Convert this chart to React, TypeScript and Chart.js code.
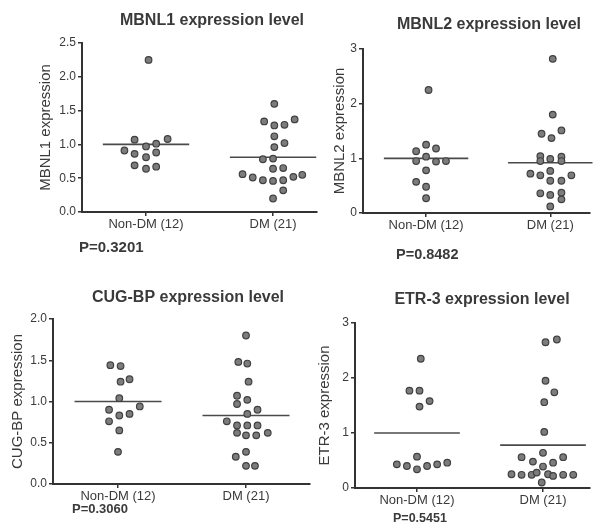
import React, { useEffect, useRef } from 'react';
import { Chart, registerables } from 'chart.js';

Chart.register(...registerables);

// ---------- data ----------
const categories = ['Non-DM (12)', 'DM (21)'];

const panelTitles = ['MBNL1 expression level', 'MBNL2 expression level', 'CUG-BP expression level', 'ETR-3 expression level'];
const yAxisTitles = ['MBNL1 expression', 'MBNL2 expression', 'CUG-BP expression', 'ETR-3 expression'];
const pValueLabels = ['P=0.3201', 'P=0.8482', 'P=0.3060', 'P=0.5451'];

const yMaxValues = [2.5, 3, 2.0, 3];
const yStepValues = [0.5, 1, 0.5, 1];

// MBNL1
const mbnl1NonDm = [2.25, 1.07, 1.08, 0.91, 0.97, 1.01, 0.86, 0.81, 0.88, 0.69, 0.64, 0.67];
const mbnl1NonDmJitter = [0.02, -0.09, 0.17, -0.17, 0, 0.08, -0.09, 0, 0.08, -0.09, 0, 0.08];
const mbnl1Dm = [1.6, 1.34, 1.28, 1.29, 1.37, 1.12, 0.96, 1.02, 0.78, 0.79, 0.64, 0.65, 0.56, 0.51, 0.47, 0.46, 0.47, 0.52, 0.55, 0.32, 0.2];
const mbnl1DmJitter = [0.01, -0.07, 0.01, 0.09, 0.17, 0.01, 0.01, 0.09, -0.08, 0, 0, 0.08, -0.24, -0.16, -0.08, 0, 0.08, 0.16, 0.23, 0.08, 0];
const mbnl1Means = [1.0, 0.81];

// MBNL2
const mbnl2NonDm = [2.25, 1.25, 1.13, 1.18, 1.03, 0.95, 0.94, 0.95, 0.78, 0.57, 0.48, 0.27];
const mbnl2NonDmJitter = [0.02, 0, -0.08, 0.08, 0, -0.08, 0.08, 0.16, 0, -0.08, 0, 0];
const mbnl2Dm = [2.82, 1.8, 1.45, 1.37, 1.51, 1.04, 0.95, 0.99, 1.03, 0.95, 0.72, 0.69, 0.77, 0.59, 0.59, 0.69, 0.36, 0.33, 0.37, 0.25, 0.12];
const mbnl2DmJitter = [0.02, 0.02, -0.07, 0.01, 0.09, -0.08, -0.08, 0, 0.09, 0.09, -0.16, -0.08, 0, 0, 0.09, 0.17, -0.08, 0, 0.09, 0.09, 0];
const mbnl2Means = [1.0, 0.92];

// CUG-BP
const cugbpNonDm = [1.44, 1.43, 1.24, 1.27, 1.04, 0.9, 0.94, 0.83, 0.85, 0.76, 0.65, 0.39];
const cugbpNonDmJitter = [-0.06, 0.02, 0.02, 0.09, 0.01, -0.07, 0.17, 0.01, 0.09, -0.07, 0.01, 0];
const cugbpDm = [1.8, 1.48, 1.46, 1.24, 1.07, 0.97, 1.02, 0.9, 0.85, 0.76, 0.71, 0.62, 0.71, 0.71, 0.59, 0.59, 0.62, 0.33, 0.39, 0.22, 0.22];
const cugbpDmJitter = [0, -0.06, 0.01, 0.02, -0.07, -0.07, 0.01, 0.09, 0.01, -0.15, -0.07, -0.07, 0.01, 0.09, 0, 0.08, 0.17, -0.08, 0, 0, 0.07];
const cugbpMeans = [1.0, 0.83];

// ETR-3
const etr3NonDm = [2.35, 1.77, 1.77, 1.48, 1.58, 0.57, 0.43, 0.4, 0.34, 0.4, 0.43, 0.46];
const etr3NonDmJitter = [0.03, -0.06, 0.02, 0.02, 0.1, 0, -0.16, -0.08, 0, 0.08, 0.16, 0.24];
const etr3Dm = [2.65, 2.7, 1.95, 1.74, 1.56, 1.02, 0.64, 0.56, 0.48, 0.39, 0.46, 0.56, 0.25, 0.24, 0.24, 0.28, 0.1, 0.25, 0.22, 0.24, 0.24];
const etr3DmJitter = [0.02, 0.11, 0.02, 0.09, 0.01, 0.01, 0, -0.17, -0.08, 0, 0.08, 0.16, -0.25, -0.17, -0.09, -0.05, -0.01, 0.04, 0.08, 0.16, 0.24];
const etr3Means = [1.0, 0.78];

// ---------- layout / style ----------
const FONT = "'Liberation Sans', Arial, Helvetica, sans-serif";
const INK = '#3a3a3a';
const MEAN_HALF_WIDTH = 0.34;

type Layout = {
  left: number; top: number; w: number; h: number;
  areaLeft: number; areaTop: number; areaRight: number; areaBottom: number;
  xMin: number; xMax: number;
  yTitlePad: number;
  titleX: number; titleY: number;
  pX: number; pY: number; pSize: number;
};

const layouts: Layout[] = [
  { left: 0, top: 0, w: 330, h: 265, areaLeft: 82, areaTop: 43, areaRight: 317, areaBottom: 212, xMin: 0.496, xMax: 2.346, yTitlePad: 37, titleX: 212, titleY: 21, pX: 79, pY: 248, pSize: 15 },
  { left: 300, top: 0, w: 293, h: 265, areaLeft: 63, areaTop: 49, areaRight: 290, areaBottom: 213, xMin: 0.492, xMax: 2.32, yTitlePad: 31, titleX: 189, titleY: 25, pX: 96, pY: 255, pSize: 14.5 },
  { left: 0, top: 265, w: 330, h: 264, areaLeft: 53, areaTop: 54, areaRight: 310, areaBottom: 219, xMin: 0.492, xMax: 2.5, yTitlePad: 9, titleX: 188, titleY: 33, pX: 72, pY: 244, pSize: 13 },
  { left: 300, top: 265, w: 293, h: 264, areaLeft: 55, areaTop: 58, areaRight: 290, areaBottom: 223, xMin: 0.508, xMax: 2.373, yTitlePad: 16, titleX: 182, titleY: 35, pX: 93, pY: 254, pSize: 12.5 },
];

const groups = [
  { nonDm: mbnl1NonDm, nonDmJ: mbnl1NonDmJitter, dm: mbnl1Dm, dmJ: mbnl1DmJitter, means: mbnl1Means },
  { nonDm: mbnl2NonDm, nonDmJ: mbnl2NonDmJitter, dm: mbnl2Dm, dmJ: mbnl2DmJitter, means: mbnl2Means },
  { nonDm: cugbpNonDm, nonDmJ: cugbpNonDmJitter, dm: cugbpDm, dmJ: cugbpDmJitter, means: cugbpMeans },
  { nonDm: etr3NonDm, nonDmJ: etr3NonDmJitter, dm: etr3Dm, dmJ: etr3DmJitter, means: etr3Means },
];

function Panel({ index }: { index: number }) {
  const ref = useRef<HTMLCanvasElement | null>(null);
  const L = layouts[index];

  useEffect(() => {
    if (!ref.current) return;
    const g = groups[index];
    const pointStyle = {
      pointRadius: 3.3,
      pointBackgroundColor: '#7c7c7c',
      pointBorderColor: '#404040',
      pointBorderWidth: 1.2,
      showLine: false,
    };
    const meanStyle = {
      borderColor: '#4a4a4a',
      borderWidth: 1.6,
      pointRadius: 0,
      showLine: true,
    };
    const decimals = yStepValues[index] < 1 ? 1 : 0;

    const textPlugin = {
      id: 'panelText',
      afterDraw(chart: any) {
        const ctx = chart.ctx;
        ctx.save();
        ctx.fillStyle = INK;
        ctx.textBaseline = 'middle';
        ctx.textAlign = 'center';
        ctx.font = `bold 16px ${FONT}`;
        ctx.fillText(panelTitles[index], L.titleX, L.titleY);
        ctx.textAlign = 'left';
        ctx.font = `bold ${L.pSize}px ${FONT}`;
        ctx.fillText(pValueLabels[index], L.pX, L.pY);
        ctx.restore();
      },
    };

    const chart = new Chart(ref.current, {
      type: 'scatter',
      data: {
        datasets: [
          { data: g.nonDm.map((v, i) => ({ x: 1 + g.nonDmJ[i], y: v })), ...pointStyle },
          { data: g.dm.map((v, i) => ({ x: 2 + g.dmJ[i], y: v })), ...pointStyle },
          { data: [{ x: 1 - MEAN_HALF_WIDTH, y: g.means[0] }, { x: 1 + MEAN_HALF_WIDTH, y: g.means[0] }], ...meanStyle },
          { data: [{ x: 2 - MEAN_HALF_WIDTH, y: g.means[1] }, { x: 2 + MEAN_HALF_WIDTH, y: g.means[1] }], ...meanStyle },
        ] as any,
      },
      options: {
        animation: false,
        responsive: false,
        maintainAspectRatio: false,
        clip: false as any,
        layout: {
          autoPadding: false,
          padding: { left: 0, top: L.areaTop, right: L.w - L.areaRight, bottom: 0 },
        },
        plugins: { legend: { display: false }, tooltip: { enabled: false }, title: { display: false } },
        scales: {
          x: {
            type: 'linear',
            min: L.xMin,
            max: L.xMax,
            bounds: 'data',
            afterBuildTicks: (scale: any) => {
              scale.ticks = categories.map((_, i) => ({ value: i + 1 }));
            },
            afterFit: (scale: any) => {
              scale.height = L.h - L.areaBottom;
            },
            ticks: {
              autoSkip: false,
              maxRotation: 0,
              padding: 1,
              color: INK,
              font: { family: FONT, size: 13 },
              callback: (v: any) => categories[Math.round(Number(v)) - 1] ?? '',
            },
            grid: { display: true, drawOnChartArea: false, drawTicks: true, tickLength: 4, color: '#333', lineWidth: 1.5 },
            border: { display: true, color: '#333', width: 2 },
          },
          y: {
            type: 'linear',
            min: 0,
            max: yMaxValues[index],
            bounds: 'data',
            afterFit: (scale: any) => {
              scale.width = L.areaLeft;
            },
            ticks: {
              stepSize: yStepValues[index],
              padding: 2,
              color: INK,
              font: { family: FONT, size: 12 },
              callback: (v: any) => Number(v).toFixed(decimals),
            },
            title: {
              display: true,
              text: yAxisTitles[index],
              color: INK,
              font: { family: FONT, size: 15 },
              padding: { top: L.yTitlePad, bottom: 0 },
            },
            grid: { display: true, drawOnChartArea: false, drawTicks: true, tickLength: 4, color: '#333', lineWidth: 1.5 },
            border: { display: true, color: '#333', width: 2 },
          },
        },
      } as any,
      plugins: [textPlugin],
    });
    return () => chart.destroy();
  }, [index]);

  return (
    <canvas
      ref={ref}
      width={L.w}
      height={L.h}
      style={{ position: 'absolute', left: L.left, top: L.top, width: L.w, height: L.h }}
    />
  );
}

export default function App() {
  return (
    <div style={{ position: 'absolute', left: 0, top: 0, width: 593, height: 529, background: '#ffffff', overflow: 'hidden' }}>
      {layouts.map((_, i) => (
        <Panel key={i} index={i} />
      ))}
    </div>
  );
}
